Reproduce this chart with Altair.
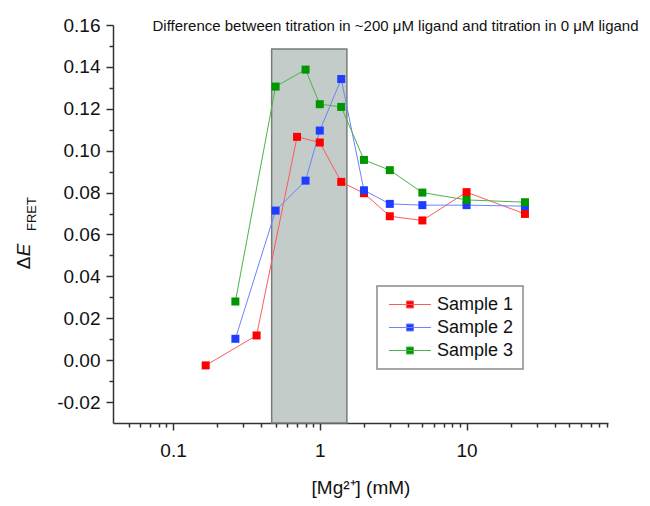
import altair as alt
import pandas as pd

# ---- data ----
samples = ["Sample 1", "Sample 2", "Sample 3"]
sample1_x = [0.167, 0.371, 0.70, 1.0, 1.4, 2.0, 3.0, 5.0, 10.0, 25.0]
sample1_y = [-0.0025, 0.0118, 0.1066, 0.1039, 0.0851, 0.0797, 0.0687, 0.0667, 0.0802, 0.0698]
sample2_x = [0.266, 0.5, 0.8, 1.0, 1.4, 2.0, 3.0, 5.0, 10.0, 25.0]
sample2_y = [0.0102, 0.0714, 0.0857, 0.1096, 0.1342, 0.0811, 0.0746, 0.0740, 0.0740, 0.0735]
sample3_x = [0.266, 0.5, 0.8, 1.0, 1.4, 2.0, 3.0, 5.0, 10.0, 25.0]
sample3_y = [0.0280, 0.1306, 0.1387, 0.1222, 0.1209, 0.0956, 0.0907, 0.0800, 0.0765, 0.0754]

band_x1 = [0.47]
band_x2 = [1.53]
band_y1 = [-0.03]
band_y2 = [0.1485]

x_major = [0.1, 1, 10]
x_minor = [0.05, 0.06, 0.07, 0.08, 0.09, 0.2, 0.3, 0.4, 0.5, 0.6, 0.7, 0.8, 0.9,
           2, 3, 4, 5, 6, 7, 8, 9, 20, 30, 40, 50, 60, 70, 80, 90]
y_major = [-0.02, 0.0, 0.02, 0.04, 0.06, 0.08, 0.10, 0.12, 0.14, 0.16]
y_minor = [-0.01, 0.01, 0.03, 0.05, 0.07, 0.09, 0.11, 0.13, 0.15]

marker_colors = ["#ff0000", "#1f3dff", "#009600"]
line_colors = ["#ff5a5a", "#6a84ff", "#4cb34c"]

title_text = "Difference between titration in ~200 \u03bcM ligand and titration in 0 \u03bcM ligand"

rows = []
for name, xs, ys in [(samples[0], sample1_x, sample1_y),
                     (samples[1], sample2_x, sample2_y),
                     (samples[2], sample3_x, sample3_y)]:
    for xv, yv in zip(xs, ys):
        rows.append({"sample": name, "mg": xv, "dE": yv})
df = pd.DataFrame(rows)
band = pd.DataFrame({"x1": band_x1, "x2": band_x2, "y1": band_y1, "y2": band_y2})

FONT = "Liberation Sans"
xscale = alt.Scale(type="log", domain=[0.039, 92], nice=False)
yscale = alt.Scale(domain=[-0.03, 0.16], nice=False, zero=False)

# legend glyph: line with a filled square (unit = 9 px for size 324)
legend_path = "M-0.72,0H3.94M1.22,-0.39H2.0V0.39H1.22Z"
legend_def = alt.Legend(
    title=None, orient="none", legendX=264, legendY=261,
    symbolType=legend_path, symbolSize=324, symbolStrokeWidth=1,
    labelFont=FONT, labelFontSize=18, labelColor="#111", labelOffset=32,
    strokeColor="#8a8a8a", fillColor="white", padding=9, rowPadding=4,
)

band_layer = alt.Chart(band).mark_rect(
    fill="#c3ccc9", stroke="#7a7a7a", strokeWidth=1.5
).encode(
    x=alt.X("x1:Q", scale=xscale, axis=None),
    x2="x2:Q",
    y=alt.Y("y1:Q", scale=yscale, axis=None),
    y2="y2:Q",
)

line_layer = alt.Chart(df).mark_line(strokeWidth=1).encode(
    x=alt.X("mg:Q", scale=xscale, axis=alt.Axis(
        orient="bottom", values=x_minor, labels=False, domain=False, grid=False,
        tickSize=4, tickWidth=1.5, tickColor="#333", title=None)),
    y=alt.Y("dE:Q", scale=yscale, axis=alt.Axis(
        orient="left", values=y_minor, labels=False, domain=False, grid=False,
        tickSize=4, tickWidth=1.5, tickColor="#333", title=None)),
    stroke=alt.Stroke("sample:N", scale=alt.Scale(domain=samples, range=line_colors),
                      legend=legend_def),
    detail="sample:N",
)

point_layer = alt.Chart(df).mark_point(
    shape="square", filled=True, size=64, opacity=1
).encode(
    x=alt.X("mg:Q", scale=xscale, axis=alt.Axis(
        orient="bottom", values=x_major, format="~g", grid=False,
        tickSize=7, tickWidth=1.5, tickColor="#333", domainColor="#333", domainWidth=1.5,
        labelFont=FONT, labelFontSize=19, labelColor="#111", labelPadding=11,
        title="[Mg\u00b2\u207a] (mM)", titleFont=FONT, titleFontSize=19,
        titleFontWeight="normal", titleColor="#111", titlePadding=18)),
    y=alt.Y("dE:Q", scale=yscale, axis=alt.Axis(
        orient="left", values=y_major, grid=False,
        labelExpr="replace(format(datum.value, '.2f'), '\u2212', '-')",
        tickSize=7, tickWidth=1.5, tickColor="#333", domainColor="#333", domainWidth=1.5,
        labelFont=FONT, labelFontSize=19, labelColor="#111", labelPadding=6,
        title=None)),
    fill=alt.Fill("sample:N", scale=alt.Scale(domain=samples, range=marker_colors),
                  legend=legend_def),
)

one = pd.DataFrame({"k": [0]})
ylab_delta = alt.Chart(one).mark_text(
    text="\u0394", angle=270, font=FONT, fontSize=19, color="#111",
    align="center", baseline="middle"
).encode(x=alt.value(-89), y=alt.value(238))
ylab_e = alt.Chart(one).mark_text(
    text="E", angle=270, font=FONT, fontSize=19, fontStyle="italic", color="#111",
    align="center", baseline="middle"
).encode(x=alt.value(-89), y=alt.value(225))
ylab_sub = alt.Chart(one).mark_text(
    text="FRET", angle=270, font=FONT, fontSize=13, color="#111",
    align="center", baseline="middle"
).encode(x=alt.value(-81), y=alt.value(189))

chart = alt.layer(
    band_layer, line_layer, point_layer, ylab_delta, ylab_e, ylab_sub
).resolve_axis(
    x="independent", y="independent"
).properties(
    width=495, height=398,
    title=alt.TitleParams(
        text=title_text, font=FONT, fontSize=15, fontWeight="normal", color="#111",
        anchor="middle", frame="group", baseline="middle", offset=0, dx=35, dy=25,
    ),
    autosize=alt.AutoSizeParams(type="none"),
    padding={"left": 113, "top": 25, "right": 42, "bottom": 83},
).configure_view(strokeWidth=0).configure_legend(strokeWidth=1.5)

chart.save("out.html", embed_options={"renderer": "svg", "actions": False})
